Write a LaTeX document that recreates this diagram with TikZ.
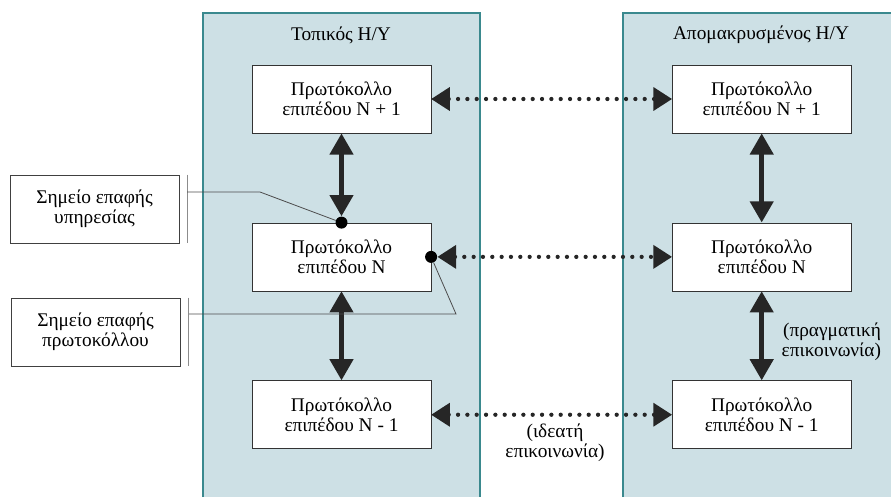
\documentclass[tikz,border=0pt]{standalone}
\usepackage{fontspec}
\setmainfont{Liberation Serif}
\usetikzlibrary{arrows.meta,positioning}
\definecolor{ypol}{RGB}{205,224,229}
\definecolor{perig}{RGB}{58,137,142}
\definecolor{velgr}{RGB}{38,38,38}
\tikzset{
  strwma/.style={draw=black!80,fill=white,minimum width=134pt,minimum height=51pt,
    align=center,font=\fontsize{14.5}{15}\selectfont},
  etik/.style={draw=black!75,fill=white,minimum width=127pt,minimum height=51pt,
    align=center,font=\fontsize{14.5}{15}\selectfont},
  pragm/.style={line width=4pt,velgr,{Triangle[length=16pt,width=17pt]}-{Triangle[length=16pt,width=17pt]}},
  ideat/.style={line width=3.2pt,velgr,line cap=round,dash pattern=on 0pt off 7pt,
    {Triangle[length=14pt,width=17pt]}-{Triangle[length=14pt,width=17pt]}},
  teleia/.style={circle,fill=black,inner sep=0pt,minimum size=9pt},
  odig/.style={draw=black!70,line width=0.6pt},
  kamp/.style={draw=black!45,line width=1pt},
  keim/.style={align=center,font=\fontsize{14.5}{15}\selectfont},
}

\begin{document}
\begin{tikzpicture}[x=0.75pt,y=-0.75pt]
  \useasboundingbox (0,0) rectangle (891,497);
  % οι δυο υπολογιστες
  \fill[ypol] (203,13) rectangle (480,497);
  \draw[perig,line width=1.5pt] (203,497) |- (480,13) -- (480,497);
  \fill[ypol] (623,13) rectangle (891,497);
  \draw[perig,line width=1.5pt] (623,497) |- (891,13);
  \node[keim] (titT) at (341,35) {Τοπικός Η/Υ};
  \node[keim] (titA) at (761,35) {Απομακρυσμένος Η/Υ};

  % στρωματα
  \node[strwma] (ta) at (341.5,99) {Πρωτόκολλο\\επιπέδου N + 1};
  \node[strwma,below=67pt of ta] (tn) {Πρωτόκολλο\\επιπέδου N};
  \node[strwma,below=67pt of tn] (tk) {Πρωτόκολλο\\επιπέδου N - 1};
  \node[strwma,right=180.75pt of ta] (ra) {Πρωτόκολλο\\επιπέδου N + 1};
  \node[strwma,right=180.75pt of tn] (rn) {Πρωτόκολλο\\επιπέδου N};
  \node[strwma,right=180.75pt of tk] (rk) {Πρωτόκολλο\\επιπέδου N - 1};
  \node[teleia] (d1) at (tn.north) {};
  \node[teleia] (d2) at (tn.east) {};

  % βελη
  \draw[pragm] (ta.south) -- (d1.north);
  \draw[pragm] (tn.south) -- (tk.north);
  \draw[pragm] (ra.south) -- (rn.north);
  \draw[pragm] (rn.south) -- (rk.north);
  \draw[ideat] (ta.east) -- (ra.west);
  \draw[ideat] (d2.east) -- (rn.west);
  \draw[ideat] (tk.east) -- (rk.west);
  \node[keim,align=right,anchor=west] (prag) at (777,342) {(πραγματική\\επικοινωνία)};
  \node[keim] (idea) at (555,443) {(ιδεατή\\επικοινωνία)};

  % σημεια επαφης
  \node[etik] (e1) at (94.5,209) {Σημείο επαφής\\υπηρεσίας};
  \node[etik] (e2) at (95.5,332) {Σημείο επαφής\\πρωτοκόλλου};
  \draw[kamp] ([xshift=6pt]e1.north east) -- ([xshift=6pt]e1.south east);
  \draw[kamp] ([xshift=6pt]e2.north east) -- ([xshift=6pt]e2.south east);
  \coordinate (g1) at (187,192);
  \coordinate (g2) at (189,314);
  \draw[odig] (g1) -- (260,192) -- (d1);
  \draw[odig] (g2) -- (456,314) -- (d2);
\end{tikzpicture}
\end{document}
